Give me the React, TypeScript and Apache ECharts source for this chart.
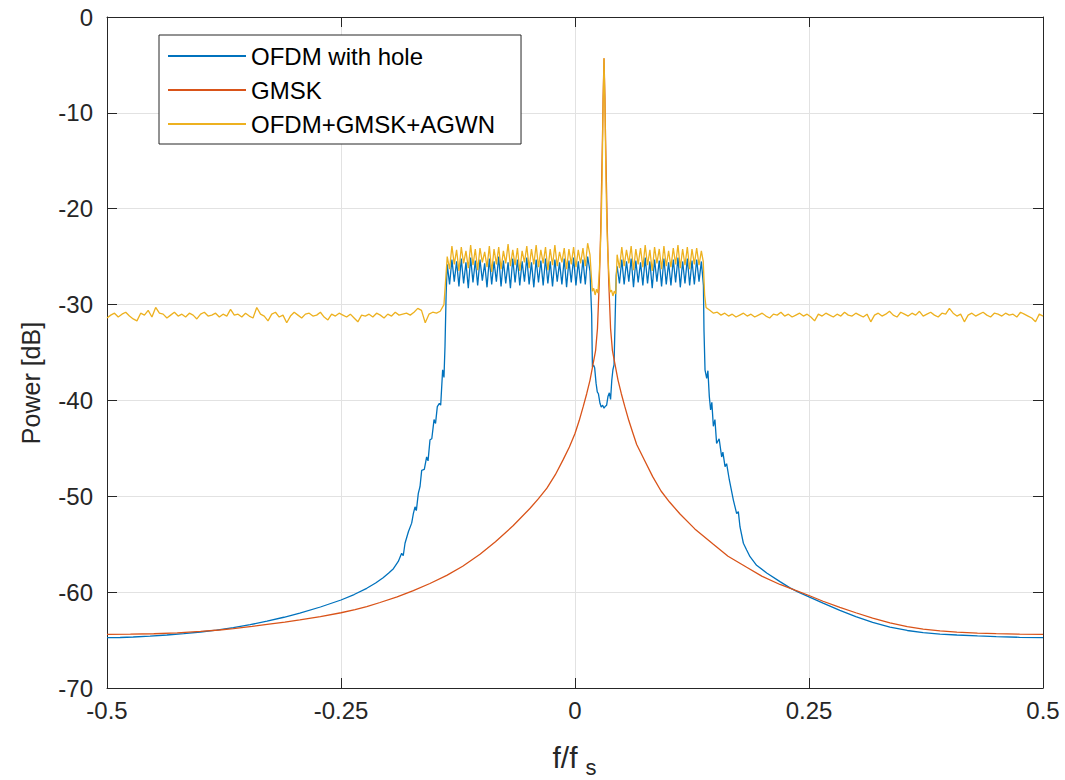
import React, { useEffect, useRef } from "react";
import * as echarts from "echarts";

const FONT = "'Liberation Sans', Arial, Helvetica, sans-serif";
const TXT = "#262626";

// ---- axis ticks ----
const xTicks = { min: -0.5, max: 0.5, interval: 0.25 };
const yTicks = { min: -70, max: 0, interval: 10 };

const seriesNames = ["OFDM with hole", "GMSK", "OFDM+GMSK+AGWN"];
const seriesColors = ["#0072BD", "#D95319", "#EDB120"];

// ---- OFDM with hole (blue) ----
const blueTailLeftX = [-0.5, -0.486, -0.472, -0.454, -0.436, -0.418, -0.4, -0.383, -0.365, -0.347, -0.329, -0.311, -0.294, -0.272, -0.25, -0.236, -0.2225, -0.213, -0.205, -0.199, -0.194];
const blueTailLeftY = [-64.75, -64.73, -64.68, -64.59, -64.47, -64.33, -64.16, -63.96, -63.71, -63.4, -63.03, -62.62, -62.18, -61.55, -60.82, -60.25, -59.6, -59.05, -58.5, -58.0, -57.55];

const blueSkirtLeftX = [-0.1888, -0.1852, -0.1835, -0.1816, -0.178, -0.1745, -0.1727, -0.1709, -0.1695, -0.1674, -0.1656, -0.1638, -0.161, -0.1585, -0.157, -0.1549, -0.153, -0.1506, -0.149, -0.1471, -0.1449, -0.1435, -0.1414, -0.14, -0.1389, -0.1377];
const blueSkirtLeftY = [-56.8, -55.95, -56.2, -54.9, -53.7, -52.8, -51.8, -51.1, -51.5, -49.7, -49.0, -47.3, -47.2, -45.9, -46.3, -44.1, -44.0, -42.0, -42.4, -40.65, -40.3, -40.5, -36.8, -37.6, -34.4, -29.0];

const bandLeftStart = -0.1365;
const bandRightStart = 0.045;
const bandStep = 0.0025;

const blueBandLeft = [
  -25.8, -27.9, -25.3, -27.6, -25.5, -28.1, -25.2, -27.8, -25.6, -28.3,
  -25.1, -27.7, -25.4, -28.0, -25.3, -27.5, -25.7, -28.2, -25.2, -27.9,
  -25.5, -27.6, -25.0, -28.1, -25.4, -27.8, -25.6, -28.3, -25.2, -27.7,
  -25.3, -28.0, -25.5, -27.6, -25.1, -27.9, -25.6, -28.2, -25.3, -27.7,
  -25.4, -28.0, -25.2, -27.8, -25.5, -28.1, -25.3, -27.6, -25.6, -27.9,
  -25.2, -28.2, -25.4, -27.7, -25.1, -28.0, -25.5, -27.8, -25.3, -27.9,
  -25.0, -26.5,
];

const blueHoleX = [0.0178, 0.0186, 0.0198, 0.021, 0.0225, 0.0238, 0.025, 0.0267, 0.028, 0.0295, 0.031, 0.0325, 0.0338, 0.0352, 0.0367, 0.038, 0.0393, 0.0405, 0.0417, 0.043, 0.044];
const blueHoleY = [-31.0, -36.5, -36.3, -36.6, -38.2, -39.1, -39.3, -40.3, -40.7, -40.5, -40.8, -40.6, -40.5, -39.6, -39.2, -39.9, -37.9, -36.8, -36.3, -31.0, -27.0];

const blueBandRight = [
  -26.0, -27.8, -25.3, -27.9, -25.5, -27.6, -25.2, -28.2, -25.4, -27.7,
  -25.6, -28.0, -25.1, -27.8, -25.5, -28.3, -25.3, -27.6, -25.4, -28.1,
  -25.2, -27.9, -25.6, -28.0, -25.3, -27.7, -25.1, -28.2, -25.5, -27.8,
  -25.2, -28.0, -25.4, -27.9, -25.3, -27.6, -25.5,
];

const blueSkirtRightX = [0.1372, 0.1378, 0.1389, 0.1407, 0.142, 0.1435, 0.1449, 0.1462, 0.1478, 0.1495, 0.1513, 0.154, 0.1567, 0.158, 0.1603, 0.162, 0.1649, 0.1692, 0.1727, 0.1745, 0.1763, 0.1799, 0.1834];
const blueSkirtRightY = [-28.0, -32.65, -36.8, -37.7, -36.9, -39.6, -41.0, -40.2, -42.7, -42.0, -44.5, -44.0, -45.9, -45.4, -46.9, -46.6, -48.3, -50.4, -51.8, -51.6, -53.2, -54.9, -55.6];

const blueTailRightX = [0.187, 0.194, 0.2048, 0.219, 0.2297, 0.2386, 0.25, 0.265, 0.283, 0.3, 0.318, 0.3365, 0.355, 0.372, 0.39, 0.408, 0.43, 0.45, 0.475, 0.5];
const blueTailRightY = [-56.3, -57.2, -58.0, -58.9, -59.55, -60.0, -60.5, -61.15, -61.9, -62.55, -63.15, -63.65, -64.0, -64.22, -64.37, -64.47, -64.57, -64.65, -64.71, -64.75];

// ---- GMSK (red) ----
const redX = [
  -0.5, -0.475, -0.45, -0.425, -0.4, -0.38, -0.365, -0.345, -0.329, -0.31,
  -0.294, -0.272, -0.25, -0.235, -0.2225, -0.2083, -0.19, -0.1727, -0.155, -0.137,
  -0.12, -0.1015, -0.085, -0.0659, -0.048, -0.039, -0.03, -0.021, -0.0125, -0.006,
  0, 0.0045, 0.0089, 0.0125, 0.016, 0.0195, 0.022, 0.024, 0.026, 0.0275,
  0.0285, 0.0295, 0.03, 0.031, 0.032, 0.0325, 0.0335, 0.0345, 0.036, 0.038,
  0.04, 0.0425, 0.046, 0.0495, 0.0531, 0.0575, 0.062, 0.0659, 0.0745, 0.083,
  0.0919, 0.101, 0.1122, 0.128, 0.1478, 0.1635, 0.1834, 0.2, 0.219, 0.235,
  0.25, 0.265, 0.283, 0.3, 0.318, 0.3365, 0.355, 0.372, 0.39, 0.408,
  0.43, 0.45, 0.475, 0.5,
];
const redY = [
  -64.4, -64.39, -64.34, -64.24, -64.1, -63.95, -63.8, -63.58, -63.37, -63.13,
  -62.9, -62.55, -62.15, -61.83, -61.52, -61.08, -60.5, -59.85, -59.1, -58.25,
  -57.3, -56.05, -54.75, -53.05, -51.25, -50.25, -49.15, -47.75, -46.15, -44.85,
  -43.45, -42.1, -40.6, -39.3, -37.9, -36.1, -34.8, -32.5, -27.5, -22.2,
  -17, -11.8, -8.5, -4.3, -8.5, -11.8, -17, -22.2, -27.5, -32.5,
  -34.8, -36.1, -37.9, -39.3, -40.6, -42.1, -43.45, -44.6, -46.3, -47.95,
  -49.45, -50.6, -51.85, -53.4, -55.0, -56.25, -57.4, -58.35, -59.2, -59.8,
  -60.35, -60.95, -61.6, -62.15, -62.7, -63.2, -63.6, -63.85, -64.05, -64.17,
  -64.27, -64.33, -64.38, -64.4,
];

// ---- OFDM+GMSK+AGWN (yellow) ----
const floorLeftStart = -0.5;
const floorRightStart = 0.14;
const floorStep = 0.004;
const yellowFloorLeft = [
  -31.4, -31.1, -30.9, -31.3, -31.0, -30.8, -31.2, -31.5, -31.7, -30.9,
  -31.1, -30.6, -31.3, -30.3, -30.9, -31.0, -31.4, -31.1, -30.8, -31.2,
  -31.0, -31.3, -30.9, -31.1, -31.5, -31.0, -30.8, -31.2, -31.1, -30.9,
  -31.3, -31.0, -31.2, -30.5, -31.1, -31.0, -31.3, -30.9, -31.2, -31.4,
  -30.3, -31.0, -31.2, -31.7, -31.0, -30.8, -31.3, -31.1, -31.9, -31.2,
  -30.8, -31.1, -31.4, -31.0, -30.9, -31.2, -31.1, -30.8, -31.3, -31.6,
  -31.0, -31.2, -30.9, -31.1, -31.3, -31.0, -31.4, -31.8, -31.1, -31.2,
  -31.0, -31.3, -30.9, -31.1, -31.4, -31.0, -31.2, -30.8, -31.1, -31.0,
  -30.9, -31.1, -30.8, -30.4, -30.6, -31.9, -31.0, -30.8, -30.9, -30.7,
  -30.0,
];
const yellowBandLeft = [
  -25.0, -26.3, -23.9, -25.8, -24.3, -26.5, -24.0, -25.7, -24.4, -26.2,
  -23.8, -25.9, -24.2, -26.4, -24.1, -25.6, -24.5, -26.1, -23.9, -26.6,
  -24.2, -25.8, -24.0, -26.3, -24.4, -25.7, -23.7, -26.0, -24.3, -25.9,
  -24.1, -26.5, -24.4, -25.6, -23.9, -26.2, -24.2, -25.8, -23.8, -26.1,
  -24.3, -25.7, -24.0, -26.4, -24.2, -25.9, -23.8, -26.0, -24.5, -25.6,
  -24.1, -26.3, -24.2, -25.8, -24.0, -26.1, -24.3, -25.7, -24.1, -26.0,
  -23.6, -24.8,
];
const yellowHoleX = [0.0185, 0.02, 0.0215, 0.023, 0.0245, 0.026, 0.027, 0.028, 0.029, 0.03, 0.031, 0.032, 0.033, 0.034, 0.035, 0.036, 0.0375, 0.039, 0.0405, 0.042, 0.0435];
const yellowHoleY = [-28.6, -28.3, -29.0, -28.4, -28.8, -26.5, -24.5, -21.5, -16.5, -9.5, -4.3, -9.5, -16.5, -21.5, -24.5, -26.5, -28.7, -28.5, -29.1, -28.6, -28.9];
const yellowBandRight = [
  -24.8, -26.2, -24.0, -26.0, -24.3, -25.7, -23.9, -26.4, -24.2, -25.8,
  -24.1, -26.1, -23.8, -25.9, -24.3, -26.5, -24.0, -25.7, -24.2, -26.3,
  -23.9, -26.0, -24.4, -26.1, -24.1, -25.8, -23.8, -26.2, -24.2, -25.9,
  -24.0, -26.3, -24.2, -25.8, -24.1, -25.9, -24.4,
];
const yellowEdgeRightX = [0.137, 0.1385];
const yellowEdgeRightY = [-25.5, -29.0];
const yellowFloorRight = [
  -30.3, -30.6, -30.9, -30.8, -31.1, -30.9, -31.2, -31.0, -31.3, -31.1,
  -30.9, -31.2, -31.0, -31.3, -31.1, -30.9, -31.2, -31.4, -31.0, -31.1,
  -30.8, -31.2, -31.0, -31.3, -31.1, -30.9, -31.2, -31.0, -31.3, -31.7,
  -31.0, -31.2, -30.9, -31.1, -31.3, -31.0, -31.2, -30.8, -31.1, -31.2,
  -30.9, -31.1, -31.3, -31.0, -31.8, -31.1, -30.9, -31.2, -31.0, -30.7,
  -31.1, -31.3, -30.8, -31.0, -31.2, -30.9, -31.1, -30.7, -31.2, -31.0,
  -30.8, -31.1, -31.3, -30.9, -31.0, -30.4, -30.9, -31.2, -31.0, -31.8,
  -31.1, -30.9, -31.2, -31.0, -30.8, -31.1, -31.3, -30.9, -31.0, -31.2,
  -30.9, -31.1, -31.0, -31.3, -30.8, -31.0, -31.2, -31.4, -31.8, -31.0,
  -31.2,
];

const zip = (xs: number[], ys: number[]) => xs.map((x, i) => [x, ys[i]]);
const grid = (start: number, step: number, ys: number[]) =>
  ys.map((y, i) => [+(start + i * step).toFixed(5), y]);

const blueData = [
  ...zip(blueTailLeftX, blueTailLeftY),
  ...zip(blueSkirtLeftX, blueSkirtLeftY),
  ...grid(bandLeftStart, bandStep, blueBandLeft),
  ...zip(blueHoleX, blueHoleY),
  ...grid(bandRightStart, bandStep, blueBandRight),
  ...zip(blueSkirtRightX, blueSkirtRightY),
  ...zip(blueTailRightX, blueTailRightY),
];
const redData = zip(redX, redY);
const yellowData = [
  ...grid(floorLeftStart, floorStep, yellowFloorLeft),
  ...grid(bandLeftStart, bandStep, yellowBandLeft),
  ...zip(yellowHoleX, yellowHoleY),
  ...grid(bandRightStart, bandStep, yellowBandRight),
  ...zip(yellowEdgeRightX, yellowEdgeRightY),
  ...grid(floorRightStart, floorStep, yellowFloorRight),
];

export default function App() {
  const ref = useRef<HTMLDivElement>(null);
  useEffect(() => {
    document.body.style.margin = "0";
    if (!ref.current) return;
    const chart = echarts.init(ref.current, undefined, { renderer: "svg" });
    const axisLine = { show: true, onZero: false, lineStyle: { color: TXT, width: 1 } };
    const axisTick = { show: true, inside: true, length: 10, lineStyle: { color: TXT, width: 1 } };
    const split = { show: true, lineStyle: { color: "#e2e2e2", width: 1 } };
    const label = { color: TXT, fontSize: 24, fontFamily: FONT };
    const line = (name: string, color: string, data: number[][]) => ({
      name,
      type: "line",
      data,
      symbol: "none",
      smooth: false,
      color,
      lineStyle: { width: 1.3, color },
    });
    chart.setOption({
      animation: false,
      backgroundColor: "#ffffff",
      grid: { left: 107, right: 22, top: 17, bottom: 92, containLabel: false },
      xAxis: [
        { type: "value", ...xTicks, position: "bottom", axisLine, axisTick, splitLine: split, axisLabel: { ...label, margin: 10 } },
        { type: "value", ...xTicks, position: "top", axisLine, axisTick, splitLine: { show: false }, axisLabel: { show: false } },
      ],
      yAxis: [
        { type: "value", ...yTicks, position: "left", axisLine, axisTick, splitLine: split, axisLabel: { ...label, margin: 14 } },
        { type: "value", ...yTicks, position: "right", axisLine, axisTick, splitLine: { show: false }, axisLabel: { show: false } },
      ],
      legend: {
        orient: "vertical",
        left: 159,
        top: 35,
        padding: [9, 26, 8, 9],
        itemGap: 10,
        itemWidth: 78,
        itemHeight: 2,
        icon: "rect",
        backgroundColor: "#ffffff",
        borderColor: TXT,
        borderWidth: 1,
        borderRadius: 0,
        textStyle: { fontSize: 24, fontFamily: FONT, color: "#000", lineHeight: 24 },
        data: seriesNames,
      },
      series: [
        line(seriesNames[0], seriesColors[0], blueData),
        line(seriesNames[1], seriesColors[1], redData),
        line(seriesNames[2], seriesColors[2], yellowData),
      ],
      graphic: [
        { type: "text", x: 31, y: 383, rotation: Math.PI / 2, style: { text: "Power [dB]", fontSize: 25, fontFamily: FONT, fill: TXT, align: "center", verticalAlign: "middle" } },
        { type: "text", x: 565, y: 757, style: { text: "f/f", fontSize: 30, fontFamily: FONT, fill: TXT, align: "center", verticalAlign: "middle" } },
        { type: "text", x: 591, y: 767, style: { text: "s", fontSize: 22, fontFamily: FONT, fill: TXT, align: "center", verticalAlign: "middle" } },
      ],
    });
    return () => chart.dispose();
  }, []);
  return <div ref={ref} style={{ width: 1065, height: 780 }} />;
}
